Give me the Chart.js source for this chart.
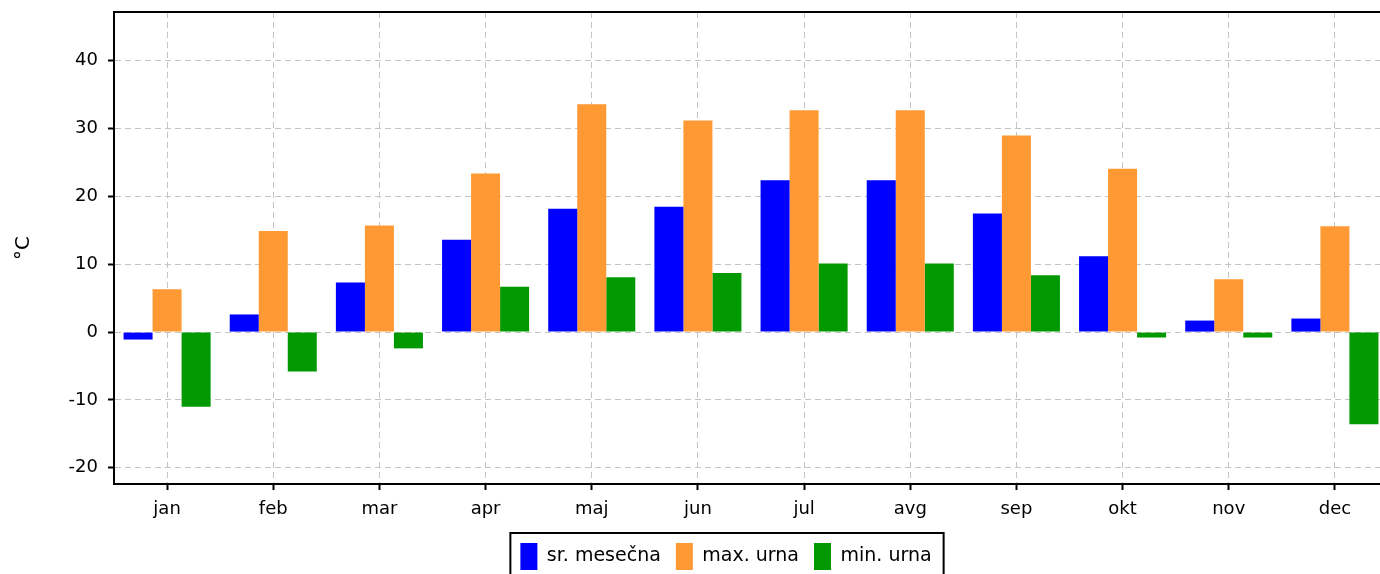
<!DOCTYPE html>
<html>
<head>
<meta charset="utf-8">
<script src="https://cdn.jsdelivr.net/npm/chart.js@4/dist/chart.umd.min.js"></script>
<style>
  html, body { margin: 0; padding: 0; background: #fff; overflow: hidden; }
  #wrap { width: 1380px; height: 574px; overflow: hidden; }
</style>
</head>
<body>
<div id="wrap"><canvas id="tempChart" width="1452" height="574"></canvas></div>
<script>
'use strict';

const months = ['jan', 'feb', 'mar', 'apr', 'maj', 'jun', 'jul', 'avg', 'sep', 'okt', 'nov', 'dec'];
const avgMonthly = [-1.1, 2.6, 7.3, 13.6, 18.2, 18.5, 22.4, 22.4, 17.5, 11.2, 1.7, 2.0];
const maxHourly = [6.3, 14.9, 15.7, 23.4, 33.6, 31.2, 32.7, 32.7, 29.0, 24.1, 7.8, 15.6];
const minHourly = [-11.0, -5.8, -2.4, 6.7, 8.1, 8.7, 10.1, 10.1, 8.4, -0.8, -0.8, -13.6];
const yTicks = [-20, -10, 0, 10, 20, 30, 40];

Chart.defaults.font.family = 'DejaVu Sans';
Chart.defaults.color = '#000';

const LEGEND_PAD = 15;

// legend sits a bit right of the centre, and both plot and legend get a frame
const frames = {
    id: 'frames',
    afterLayout(chart) {
        const lg = chart.legend;
        lg.left += 26;
        lg.right += 26;
    },
    afterDraw(chart) {
        const ctx = chart.ctx;
        const a = chart.chartArea;
        ctx.save();
        ctx.strokeStyle = '#000';
        ctx.lineWidth = 2;
        ctx.strokeRect(a.left, a.top, a.right - a.left, a.bottom - a.top);
        const lg = chart.legend;
        if (lg && lg.lineWidths && lg.lineWidths.length) {
            const w = lg.lineWidths[0];
            const x0 = (lg.left + LEGEND_PAD + lg.right - w) / 2;
            const t = lg.top + LEGEND_PAD - 10;
            ctx.strokeRect(x0 - 10, t, w - LEGEND_PAD + 22, 60);
        }
        ctx.restore();
    }
};

const gridStyle = {
    color: '#c4c4c4',
    lineWidth: 1,
    tickColor: '#000',
    tickWidth: 2,
    tickLength: 6
};

new Chart(document.getElementById('tempChart'), {
    type: 'bar',
    data: {
        labels: months,
        datasets: [{
            label: 'sr. mesečna',
            data: avgMonthly,
            backgroundColor: '#0000ff'
        }, {
            label: 'max. urna',
            data: maxHourly,
            backgroundColor: '#ff9933'
        }, {
            label: 'min. urna',
            data: minHourly,
            backgroundColor: '#009900'
        }]
    },
    plugins: [frames],
    options: {
        responsive: false,
        animation: false,
        datasets: {
            bar: { categoryPercentage: 0.82, barPercentage: 1.0 }
        },
        layout: {
            padding: { left: 12, top: 0, right: 64, bottom: -6 }
        },
        plugins: {
            tooltip: { enabled: false },
            legend: {
                position: 'bottom',
                labels: {
                    boxWidth: 17,
                    boxHeight: 27,
                    padding: LEGEND_PAD,
                    font: { size: 19 }
                }
            }
        },
        scales: {
            x: {
                grid: Object.assign({ offset: false }, gridStyle),
                border: { color: '#000', width: 2, dash: [6, 4] },
                ticks: { font: { size: 18 }, padding: 9, maxRotation: 0 },
                afterFit: s => { s.height = 44; }
            },
            y: {
                min: -22.4,
                max: 47.2,
                grid: gridStyle,
                border: { color: '#000', width: 2, dash: [6, 4] },
                afterBuildTicks: s => { s.ticks = yTicks.map(v => ({ value: v })); },
                ticks: { font: { size: 18 }, padding: 10 },
                title: { display: true, text: '°C', font: { size: 20 }, padding: 0 },
                afterFit: s => { s.width = 102; s.paddingTop = 12; s.paddingBottom = 0; }
            }
        }
    }
});
</script>
</body>
</html>
